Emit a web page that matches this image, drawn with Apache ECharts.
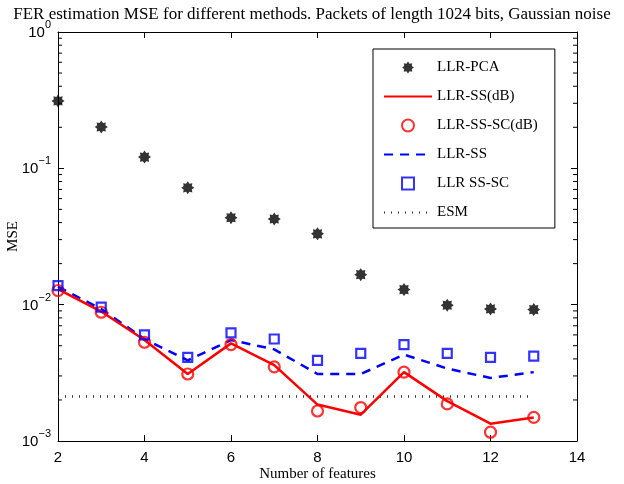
<!DOCTYPE html>
<html>
<head>
<meta charset="utf-8">
<script src="https://cdn.jsdelivr.net/npm/echarts@6/dist/echarts.min.js"></script>
<style>
  html, body { margin: 0; padding: 0; background: #fff; }
  #chart { width: 624px; height: 484px; }
</style>
</head>
<body>
<div id="chart"></div>
<script>
// number of features on the x axis
const features = [2, 3, 4, 5, 6, 7, 8, 9, 10, 11, 12, 13];
// MSE values
const llrPca    = [0.312, 0.201, 0.121, 0.072, 0.0434, 0.0425, 0.0331, 0.0166, 0.0129, 0.0099, 0.0093, 0.0092];
const llrSsDb   = [0.0130, 0.0089, 0.0055, 0.0031, 0.0052, 0.0036, 0.00185, 0.00156, 0.0032, 0.00196, 0.00134, 0.00149];
const llrSsScDb = [0.0127, 0.0088, 0.0053, 0.0031, 0.0051, 0.0035, 0.00166, 0.00176, 0.0032, 0.00187, 0.00116, 0.00149];
const llrSs     = [0.0135, 0.0093, 0.0056, 0.0039, 0.0055, 0.0047, 0.0031, 0.0031, 0.0043, 0.0034, 0.0029, 0.0032];
const llrSsSc   = [0.0138, 0.0096, 0.0060, 0.0041, 0.0062, 0.0056, 0.0039, 0.0044, 0.0051, 0.0044, 0.0041, 0.0042];
const esmLevel  = 0.00212;
const esmRange  = [2, 13];

const pair = (vals) => features.map((f, i) => [f, vals[i]]);

// minor ticks of the log axis (2..9 in each decade)
const minorTicks = [];
[0.001, 0.01, 0.1].forEach((d) => {
  for (let k = 2; k <= 9; k++) minorTicks.push([2, d * k]);
});

// asterisk-like marker
let star = 'path://';
for (let i = 0; i < 16; i++) {
  const a = i * Math.PI / 8;
  const r = i % 2 === 0 ? 1 : 0.68;
  star += (i === 0 ? 'M' : 'L') + (r * Math.cos(a)).toFixed(3) + ' ' + (r * Math.sin(a)).toFixed(3) + ' ';
}
star += 'Z';
const square = 'path://M0 0 L10 0 L10 10 L0 10 Z';

const serif = 'Liberation Serif';
const sans = 'Liberation Sans';
const hidden = { opacity: 0 };

const chart = echarts.init(document.getElementById('chart'));
chart.setOption({
  animation: false,
  title: {
    text: 'FER estimation MSE for different methods. Packets of length 1024 bits, Gaussian noise',
    left: 'center',
    top: 1,
    textStyle: { fontFamily: serif, fontSize: 17, fontWeight: 'normal', color: '#000' }
  },
  grid: { left: 58, right: 47, top: 32, bottom: 43, outerBoundsMode: 'none', containLabel: false },
  legend: {
    orient: 'vertical',
    left: 373,
    top: 49,
    padding: [11, 17, 8, 10],
    itemGap: 14,
    itemWidth: 48,
    itemHeight: 12,
    borderColor: '#000',
    borderWidth: 1,
    borderRadius: 0,
    backgroundColor: '#fff',
    textStyle: { fontFamily: serif, fontSize: 15, color: '#000' },
    data: [
      { name: 'LLR-PCA' },
      { name: 'LLR-SS(dB)', itemStyle: hidden },
      { name: 'LLR-SS-SC(dB)' },
      { name: 'LLR-SS', itemStyle: hidden },
      { name: 'LLR SS-SC', icon: square },
      { name: 'ESM', itemStyle: hidden }
    ]
  },
  xAxis: [{
    type: 'value',
    min: 2,
    max: 14,
    interval: 2,
    name: 'Number of features',
    nameLocation: 'middle',
    nameGap: 26,
    nameMoveOverlap: false,
    nameTextStyle: { fontFamily: serif, fontSize: 15, color: '#000' },
    axisLine: { lineStyle: { color: '#000', width: 1 } },
    axisTick: { inside: true, length: 6, lineStyle: { color: '#000' } },
    axisLabel: { fontFamily: sans, fontSize: 15, color: '#000', margin: 9 },
    splitLine: { show: false }
  }, {
    type: 'value',
    position: 'top',
    min: 2,
    max: 14,
    interval: 2,
    axisLine: { lineStyle: { color: '#000', width: 1 } },
    axisTick: { inside: true, length: 6, lineStyle: { color: '#000' } },
    axisLabel: { show: false },
    splitLine: { show: false }
  }],
  yAxis: [{
    type: 'log',
    logBase: 10,
    min: 0.001,
    max: 1,
    name: 'MSE',
    nameLocation: 'middle',
    nameGap: 37,
    nameMoveOverlap: false,
    nameRotate: 90,
    nameTextStyle: { fontFamily: serif, fontSize: 15, color: '#000' },
    axisLine: { lineStyle: { color: '#000', width: 1 } },
    axisTick: { inside: true, length: 6, lineStyle: { color: '#000' } },
    axisLabel: {
      margin: 7,
      formatter: (v) => {
        const e = Math.round(Math.log10(v));
        return '{b|10}{s|' + (e < 0 ? '\u2212' + (-e) : e) + '}';
      },
      rich: {
        b: { fontFamily: sans, fontSize: 15, color: '#000', padding: [2, 0, 0, 0] },
        s: { fontFamily: sans, fontSize: 11, color: '#000', padding: [0, 0, 14, 0] }
      }
    },
    splitLine: { show: false }
  }, {
    type: 'log',
    logBase: 10,
    min: 0.001,
    max: 1,
    position: 'right',
    axisLine: { lineStyle: { color: '#000', width: 1 } },
    axisTick: { inside: true, length: 6, lineStyle: { color: '#000' } },
    axisLabel: { show: false },
    splitLine: { show: false }
  }],
  series: [
    {
      name: 'minor',
      type: 'custom',
      silent: true,
      clip: false,
      data: minorTicks,
      renderItem: (params, api) => {
        const p = api.coord([api.value(0), api.value(1)]);
        const cs = params.coordSys;
        const style = { stroke: '#000', lineWidth: 1 };
        return {
          type: 'group',
          children: [
            { type: 'line', shape: { x1: cs.x, y1: p[1], x2: cs.x + 4, y2: p[1] }, style },
            { type: 'line', shape: { x1: cs.x + cs.width, y1: p[1], x2: cs.x + cs.width - 4, y2: p[1] }, style }
          ]
        };
      }
    },
    {
      name: 'ESM',
      type: 'line',
      symbol: 'none',
      data: esmRange.map((x) => [x, esmLevel]),
      lineStyle: { color: '#333', width: 2.5, type: [1, 6] },
      itemStyle: { color: '#333' },
      z: 2
    },
    {
      name: 'LLR-SS',
      type: 'line',
      symbol: 'none',
      data: pair(llrSs),
      lineStyle: { color: '#0000ff', width: 2.5, type: [9, 7] },
      itemStyle: { color: '#0000ff' },
      z: 3
    },
    {
      name: 'LLR-SS(dB)',
      type: 'line',
      symbol: 'none',
      data: pair(llrSsDb),
      lineStyle: { color: '#ff0000', width: 2.5 },
      itemStyle: { color: '#ff0000' },
      z: 4
    },
    {
      name: 'LLR-SS-SC(dB)',
      type: 'scatter',
      symbol: 'circle',
      symbolSize: 11,
      clip: false,
      data: pair(llrSsScDb),
      itemStyle: { color: 'rgba(255,255,255,0)', borderColor: '#ff0000', borderWidth: 2.2 },
      z: 5
    },
    {
      name: 'LLR SS-SC',
      type: 'scatter',
      symbol: 'rect',
      symbolSize: 9,
      clip: false,
      data: pair(llrSsSc),
      itemStyle: { color: 'rgba(255,255,255,0)', borderColor: '#0000ff', borderWidth: 2.2 },
      z: 5
    },
    {
      name: 'LLR-PCA',
      type: 'scatter',
      symbol: star,
      symbolSize: 13,
      clip: false,
      data: pair(llrPca),
      itemStyle: { color: '#000' },
      z: 6
    }
  ]
});
</script>
</body>
</html>
